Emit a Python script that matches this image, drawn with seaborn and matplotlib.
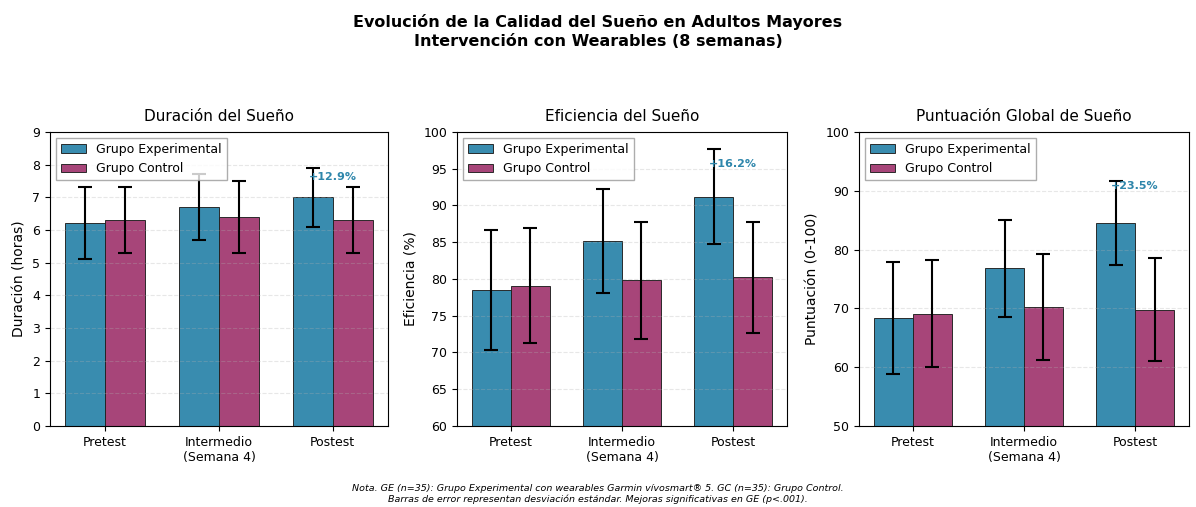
import matplotlib
matplotlib.use("Agg")
import matplotlib.pyplot as plt
import seaborn as sns
import pandas as pd
import numpy as np

phases = ["Pretest", "Intermedio\n(Semana 4)", "Postest"]
groups = ["Grupo Experimental", "Grupo Control"]

dur_ge = [6.2, 6.7, 7.0]
dur_ge_sd = [1.1, 1.0, 0.9]
dur_gc = [6.3, 6.4, 6.3]
dur_gc_sd = [1.0, 1.1, 1.0]

eff_ge = [78.5, 85.2, 91.2]
eff_ge_sd = [8.2, 7.1, 6.5]
eff_gc = [79.1, 79.8, 80.2]
eff_gc_sd = [7.8, 8.0, 7.5]

psq_ge = [68.4, 76.8, 84.5]
psq_ge_sd = [9.5, 8.2, 7.1]
psq_gc = [69.1, 70.2, 69.8]
psq_gc_sd = [9.1, 9.0, 8.8]

colors = {"Grupo Experimental": "#2E86AB", "Grupo Control": "#A23B72"}

panels = [
    dict(title="Duración del Sueño", ylabel="Duración (horas)", ge=dur_ge, gesd=dur_ge_sd,
         gc=dur_gc, gcsd=dur_gc_sd, ylim=(0, 9), ticks=np.arange(0, 10, 1), label_y=7.48,
         rect=[0.0418, 0.1598, 0.2826, 0.580]),
    dict(title="Eficiencia del Sueño", ylabel="Eficiencia (%)", ge=eff_ge, gesd=eff_ge_sd,
         gc=eff_gc, gcsd=eff_gc_sd, ylim=(60, 100), ticks=np.arange(60, 101, 5), label_y=95.0,
         rect=[0.3821, 0.1598, 0.2759, 0.580]),
    dict(title="Puntuación Global de Sueño", ylabel="Puntuación (0-100)", ge=psq_ge, gesd=psq_ge_sd,
         gc=psq_gc, gcsd=psq_gc_sd, ylim=(50, 100), ticks=np.arange(50, 101, 10), label_y=90.0,
         rect=[0.7182, 0.1598, 0.2759, 0.580]),
]

fig = plt.figure(figsize=(11.96, 5.07), dpi=100)

for p in panels:
    ax = fig.add_axes(p["rect"])
    df = pd.DataFrame({
        "fase": phases * 2,
        "grupo": [groups[0]] * 3 + [groups[1]] * 3,
        "valor": list(p["ge"]) + list(p["gc"]),
        "sd": list(p["gesd"]) + list(p["gcsd"]),
    })
    sns.barplot(data=df, x="fase", y="valor", hue="grupo", palette=colors, saturation=1,
                order=phases, hue_order=groups, errorbar=None, width=0.7, gap=0,
                edgecolor="#222222", linewidth=0.7, alpha=0.95, ax=ax)
    for container, grp in zip(ax.containers, groups):
        sub = df[df["grupo"] == grp].set_index("fase").loc[phases]
        xs = [b.get_x() + b.get_width() / 2 for b in container]
        ax.errorbar(xs, sub["valor"].values, yerr=sub["sd"].values, fmt="none",
                    ecolor="black", elinewidth=1.5, capsize=5, capthick=1.5, zorder=3)
    ax.set_ylim(*p["ylim"])
    ax.set_yticks(p["ticks"])
    ax.set_title(p["title"], fontsize=11, pad=8)
    ax.set_ylabel(p["ylabel"], fontsize=10)
    ax.set_xlabel("")
    ax.tick_params(axis="both", labelsize=9)
    ax.set_axisbelow("line")
    ax.yaxis.grid(True, linestyle="--", alpha=0.3)
    ax.legend(loc="upper left", fontsize=9, fancybox=False, framealpha=0.8, edgecolor="#999999")
    pct = (p["ge"][2] - p["ge"][0]) / p["ge"][0] * 100
    ax.text(2, p["label_y"], f"+{pct:.1f}%", ha="center", va="bottom", fontsize=8,
            fontweight="bold", color="#2E86AB", zorder=4)

fig.suptitle("Evolución de la Calidad del Sueño en Adultos Mayores\nIntervención con Wearables (8 semanas)",
             fontsize=11.5, fontweight="bold", y=0.972, linespacing=1.35)
fig.text(0.5, 0.005,
         "Nota. GE (n=35): Grupo Experimental con wearables Garmin vívosmart® 5. GC (n=35): Grupo Control.\n"
         "Barras de error representan desviación estándar. Mejoras significativas en GE (p<.001).",
         ha="center", va="bottom", fontsize=6.8, style="italic", linespacing=1.3)

fig.savefig("out.png", dpi=100)
